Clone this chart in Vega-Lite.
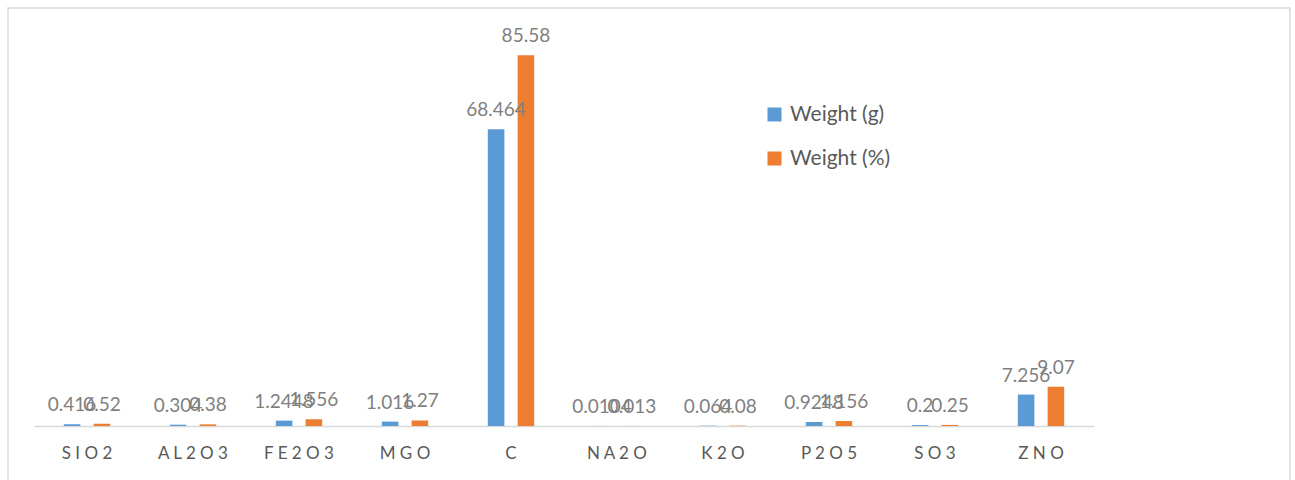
{
  "$schema": "https://vega.github.io/schema/vega-lite/v6.json",
  "width": 1282,
  "height": 480,
  "autosize": {"type": "none"},
  "padding": {"left": 8, "top": 8, "right": 5, "bottom": 0},
  "config": {
    "font": "Lato",
    "view": {"stroke": "#d9d9d9", "strokeWidth": 1.5}
  },
  "data": {
    "values": [
      {"oxide": "SIO2", "series": "Weight (g)", "value": 0.416},
      {"oxide": "SIO2", "series": "Weight (%)", "value": 0.52},
      {"oxide": "AL2O3", "series": "Weight (g)", "value": 0.304},
      {"oxide": "AL2O3", "series": "Weight (%)", "value": 0.38},
      {"oxide": "FE2O3", "series": "Weight (g)", "value": 1.2448},
      {"oxide": "FE2O3", "series": "Weight (%)", "value": 1.556},
      {"oxide": "MGO", "series": "Weight (g)", "value": 1.016},
      {"oxide": "MGO", "series": "Weight (%)", "value": 1.27},
      {"oxide": "C", "series": "Weight (g)", "value": 68.464},
      {"oxide": "C", "series": "Weight (%)", "value": 85.58},
      {"oxide": "NA2O", "series": "Weight (g)", "value": 0.0104},
      {"oxide": "NA2O", "series": "Weight (%)", "value": 0.013},
      {"oxide": "K2O", "series": "Weight (g)", "value": 0.064},
      {"oxide": "K2O", "series": "Weight (%)", "value": 0.08},
      {"oxide": "P2O5", "series": "Weight (g)", "value": 0.9248},
      {"oxide": "P2O5", "series": "Weight (%)", "value": 1.156},
      {"oxide": "SO3", "series": "Weight (g)", "value": 0.2},
      {"oxide": "SO3", "series": "Weight (%)", "value": 0.25},
      {"oxide": "ZNO", "series": "Weight (g)", "value": 7.256},
      {"oxide": "ZNO", "series": "Weight (%)", "value": 9.07}
    ]
  },
  "encoding": {
    "x": {
      "field": "oxide",
      "type": "nominal",
      "sort": null,
      "scale": {"range": [26, 1086], "paddingInner": 0, "paddingOuter": 0},
      "axis": {
        "title": null,
        "offset": -62,
        "domainColor": "#d9d9d9",
        "domainWidth": 1.5,
        "ticks": false,
        "labelAngle": 0,
        "labelFontSize": 17,
        "labelColor": "#595959",
        "labelPadding": 19,
        "labelBaseline": "top",
        "labelExpr": "join(split(datum.label, ''), ' ')"
      }
    },
    "xOffset": {
      "field": "series",
      "type": "nominal",
      "sort": ["Weight (g)", "Weight (%)"],
      "scale": {"paddingInner": 0.444, "paddingOuter": 1.185}
    },
    "y": {
      "field": "value",
      "type": "quantitative",
      "scale": {"domain": [0, 90], "range": [418, 28]},
      "axis": null
    }
  },
  "layer": [
    {
      "mark": {"type": "bar"},
      "encoding": {
        "color": {
          "field": "series",
          "type": "nominal",
          "sort": ["Weight (g)", "Weight (%)"],
          "scale": {"domain": ["Weight (g)", "Weight (%)"], "range": ["#5b9bd5", "#ed7d31"]},
          "legend": {
            "title": null,
            "orient": "none",
            "legendX": 756,
            "legendY": 96,
            "symbolType": "square",
            "symbolSize": 196,
            "symbolStrokeWidth": 0,
            "labelFontSize": 21,
            "labelColor": "#595959",
            "labelOffset": 5,
            "rowPadding": 22
          }
        }
      }
    },
    {
      "mark": {"type": "text", "baseline": "alphabetic", "dy": -13, "fontSize": 19, "color": "#7f7f7f"},
      "encoding": {
        "text": {"field": "value", "type": "nominal"}
      }
    }
  ]
}
